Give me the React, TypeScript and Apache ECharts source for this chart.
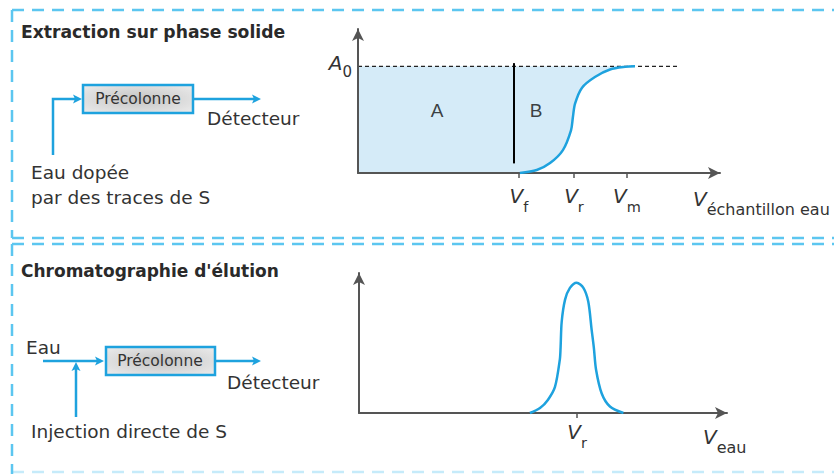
import React, { useEffect, useRef } from "react";
import * as echarts from "echarts";

// ---------- data ----------
// Top panel: breakthrough curve (solid phase extraction)
const topVolumes = [0, 44.0, 48.6, 52.2, 55.7, 57.9, 58.4, 59.0, 60.9, 64.4, 68.5, 72.6, 75.3];
const topAbsorbance = [0, 0, 0.028, 0.093, 0.215, 0.4, 0.52, 0.65, 0.8, 0.9, 0.97, 0.995, 1.0];
const a0Level = 1;
const a0LineEnd = 87;
const vfMarkerVolume = 42.4;
const vfMarkerRange = [0.09, 1.03];
const topTickValues = [43.75, 58.7, 73.1];
const topTickSubs = ["f", "r", "m"];
const regionNames = ["A", "B"];
const regionVolumes = [21.5, 48.4];
const regionLevel = 0.59;

// Bottom panel: elution peak
const peakVolumes = [45.7, 48.4, 50.5, 52.4, 53.7, 53.9, 54.2, 55.1, 56.4, 58.2, 60.0, 61.3, 62.2, 62.8, 63.4, 64.9, 67.1, 70.7];
const peakSignal = [0, 0.038, 0.1, 0.2, 0.41, 0.5, 0.7, 0.87, 0.96, 1.0, 0.96, 0.855, 0.64, 0.5, 0.33, 0.15, 0.05, 0];
const bottomTickValues = [58.3];
const bottomTickSubs = ["r"];

// ---------- styles ----------
const BLUE = "#1ea2de";
const FILL = "#d5ebf8";
const DASH_BLUE = "#5cc6f0";
const AXIS = "#555555";
const TEXT = "#333333";
const FONT = "DejaVu Sans";

const subRich = {
  v: { fontFamily: FONT, fontStyle: "italic", fontSize: 20, lineHeight: 20, verticalAlign: "top", color: TEXT },
  s: { fontFamily: FONT, fontSize: 14.5, lineHeight: 28, verticalAlign: "bottom", color: TEXT },
};
const nameRich = {
  v: { fontFamily: FONT, fontStyle: "italic", fontSize: 20, lineHeight: 20, verticalAlign: "top", color: TEXT },
  s: { fontFamily: FONT, fontSize: 16, lineHeight: 28, verticalAlign: "bottom", color: TEXT },
};

function arrowRight(tx: number, ty: number) {
  return {
    type: "polygon",
    shape: { points: [[tx, ty], [tx - 9, ty - 4.5], [tx - 7, ty], [tx - 9, ty + 4.5]] },
    style: { fill: BLUE },
  };
}
function arrowUp(tx: number, ty: number) {
  return {
    type: "polygon",
    shape: { points: [[tx, ty], [tx - 4.5, ty + 9], [tx, ty + 7], [tx + 4.5, ty + 9]] },
    style: { fill: BLUE },
  };
}
function blueLine(points: number[][]) {
  return { type: "polyline", shape: { points }, style: { stroke: BLUE, lineWidth: 2.5, fill: null } };
}
function dashLine(x1: number, y1: number, x2: number, y2: number, opacity = 1) {
  return {
    type: "line",
    shape: { x1, y1, x2, y2 },
    style: { stroke: DASH_BLUE, lineWidth: 2.5, lineDash: [12, 8], opacity },
  };
}
function txt(x: number, y: number, text: string, size: number, bold = false, align = "left") {
  return {
    type: "text",
    x,
    y,
    style: {
      text,
      fontFamily: FONT,
      fontSize: size,
      fontWeight: bold ? "bold" : "normal",
      fill: bold ? "#2a2a2a" : TEXT,
      align,
      verticalAlign: "middle",
    },
  };
}
function box(x: number, y: number, w: number, h: number) {
  return {
    type: "rect",
    shape: { x, y, width: w, height: h },
    style: {
      fill: new echarts.graphic.RadialGradient(0.5, 0.5, 0.7, [
        { offset: 0, color: "#c4c4c4" },
        { offset: 1, color: "#ececec" },
      ]),
      stroke: BLUE,
      lineWidth: 2.5,
    },
  };
}

export default function App() {
  const ref = useRef<HTMLDivElement>(null);
  useEffect(() => {
    if (!ref.current) return;
    const chart = echarts.init(ref.current, undefined, { renderer: "svg" });

    const axisLine = {
      show: true,
      onZero: false,
      symbol: ["none", "arrow"],
      symbolSize: [9, 12],
      lineStyle: { color: AXIS, width: 2 },
    };

    const graphic: any[] = [
      // dashed frames
      dashLine(12, 10, 834, 10),
      dashLine(12, 10, 12, 238),
      dashLine(12, 238, 834, 238),
      dashLine(12, 244, 834, 244),
      dashLine(12, 244, 12, 474),
      dashLine(12, 472, 834, 472, 0.35),
      // top diagram
      txt(21, 32, "Extraction sur phase solide", 17.2, true),
      blueLine([[53, 155], [53, 99], [76, 99]]),
      arrowRight(82, 99),
      box(83, 85, 110, 28),
      txt(138, 99, "Précolonne", 15.5, false, "center"),
      blueLine([[193, 99], [254, 99]]),
      arrowRight(261, 99),
      txt(207, 118, "Détecteur", 18.5),
      txt(31, 172, "Eau dopée", 18.5),
      txt(31, 197, "par des traces de S", 18.5),
      // bottom diagram
      txt(21, 271, "Chromatographie d'élution", 17, true),
      txt(26, 347, "Eau", 18.5),
      blueLine([[43, 361], [97, 361]]),
      arrowRight(104, 361),
      blueLine([[76, 417], [76, 368]]),
      arrowUp(76, 362),
      box(106, 347, 109, 28),
      txt(160, 361, "Précolonne", 15.5, false, "center"),
      blueLine([[215, 361], [254, 361]]),
      arrowRight(261, 361),
      txt(227, 382, "Détecteur", 18.5),
      txt(31, 431, "Injection directe de S", 18.5),
    ];

    chart.setOption({
      animation: false,
      backgroundColor: "#ffffff",
      grid: [
        { left: 358, top: 29, width: 362, height: 144, containLabel: false, outerBoundsMode: "none" },
        { left: 359, top: 273, width: 368, height: 140, containLabel: false, outerBoundsMode: "none" },
      ],
      xAxis: [
        {
          type: "value",
          gridIndex: 0,
          min: 0,
          max: 98.4,
          z: 5,
          splitLine: { show: false },
          axisLine,
          axisTick: { show: true, customValues: topTickValues, length: 5, lineStyle: { color: AXIS, width: 1.5 } },
          axisLabel: {
            customValues: topTickValues,
            margin: 13,
            verticalAlign: "top",
            formatter: (v: number) => `{v|V}{s|${topTickSubs[topTickValues.indexOf(v)] ?? ""}}`,
            rich: subRich,
          },
          name: "{v|V}{s|échantillon eau}",
          nameLocation: "end",
          nameGap: -27,
          nameTextStyle: { align: "left", verticalAlign: "top", padding: [16, 0, 0, 0], rich: nameRich },
        },
        {
          type: "value",
          gridIndex: 1,
          min: 0,
          max: 98.4,
          z: 5,
          splitLine: { show: false },
          axisLine,
          axisTick: { show: true, customValues: bottomTickValues, length: 5, lineStyle: { color: AXIS, width: 1.5 } },
          axisLabel: {
            customValues: bottomTickValues,
            margin: 9,
            verticalAlign: "top",
            formatter: (v: number) => `{v|V}{s|${bottomTickSubs[bottomTickValues.indexOf(v)] ?? ""}}`,
            rich: subRich,
          },
          name: "{v|V}{s|eau}",
          nameLocation: "end",
          nameGap: -24,
          nameTextStyle: { align: "left", verticalAlign: "top", padding: [14, 0, 0, 0], rich: nameRich },
        },
      ],
      yAxis: [
        {
          type: "value",
          gridIndex: 0,
          min: 0,
          max: 1.35,
          z: 5,
          splitLine: { show: false },
          axisLine,
          axisTick: { show: false },
          axisLabel: {
            customValues: [a0Level],
            margin: 6,
            formatter: () => "{a|A}{b|0}",
            rich: {
              a: { fontFamily: FONT, fontStyle: "italic", fontSize: 20, lineHeight: 20, verticalAlign: "top", color: TEXT },
              b: { fontFamily: FONT, fontSize: 15, lineHeight: 26, verticalAlign: "bottom", color: TEXT },
            },
          },
        },
        {
          type: "value",
          gridIndex: 1,
          min: 0,
          max: 1.074,
          z: 5,
          splitLine: { show: false },
          axisLine,
          axisTick: { show: false },
          axisLabel: { show: false },
        },
      ],
      series: [
        {
          type: "custom",
          xAxisIndex: 0,
          yAxisIndex: 0,
          silent: true,
          z: 1,
          data: [[0, 0]],
          renderItem: (_p: any, api: any) => {
            const pts: number[][] = [api.coord([0, 0])];
            topVolumes.forEach((v, i) => pts.push(api.coord([v, topAbsorbance[i]])));
            pts.push(api.coord([topVolumes[topVolumes.length - 1], a0Level]));
            pts.push(api.coord([0, a0Level]));
            return { type: "polygon", shape: { points: pts }, style: { fill: FILL } };
          },
        },
        {
          type: "line",
          xAxisIndex: 0,
          yAxisIndex: 0,
          symbol: "none",
          silent: true,
          data: [[0, a0Level], [a0LineEnd, a0Level]],
          lineStyle: { color: "#222", width: 1.3, type: [4, 3] },
        },
        {
          type: "line",
          xAxisIndex: 0,
          yAxisIndex: 0,
          symbol: "none",
          silent: true,
          data: [[vfMarkerVolume, vfMarkerRange[0]], [vfMarkerVolume, vfMarkerRange[1]]],
          lineStyle: { color: "#000", width: 2 },
        },
        {
          type: "line",
          xAxisIndex: 0,
          yAxisIndex: 0,
          symbol: "none",
          silent: true,
          smooth: 0.3,
          z: 6,
          data: topVolumes.slice(1).map((v, i) => [v, topAbsorbance[i + 1]]),
          lineStyle: { color: BLUE, width: 2.5 },
        },
        {
          type: "scatter",
          xAxisIndex: 0,
          yAxisIndex: 0,
          symbolSize: 0,
          silent: true,
          data: regionNames.map((n, i) => [regionVolumes[i], regionLevel, n]),
          label: {
            show: true,
            position: "inside",
            formatter: (p: any) => p.value[2],
            fontFamily: "Liberation Sans",
            fontSize: 19,
            color: "#111",
          },
        },
        {
          type: "line",
          xAxisIndex: 1,
          yAxisIndex: 1,
          symbol: "none",
          silent: true,
          smooth: 0.3,
          z: 6,
          data: peakVolumes.map((v, i) => [v, peakSignal[i]]),
          lineStyle: { color: BLUE, width: 2.5 },
        },
      ],
      graphic,
    });

    return () => chart.dispose();
  }, []);

  return (
    <div
      ref={ref}
      style={{ position: "absolute", left: 0, top: 0, width: 834, height: 474, background: "#fff" }}
    />
  );
}
